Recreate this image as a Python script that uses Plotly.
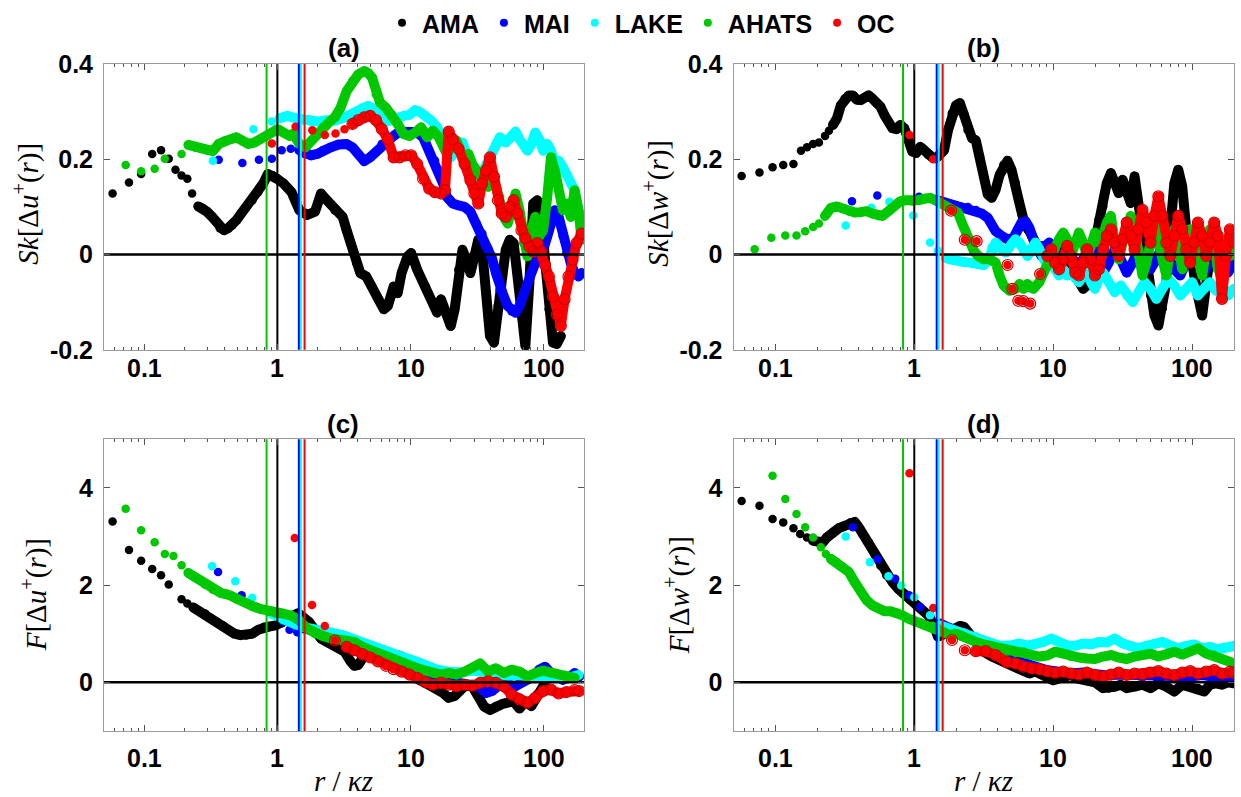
import math
import plotly.graph_objects as go

SITES = ["AMA", "MAI", "LAKE", "AHATS", "OC"]
COLORS = {"AMA": "#000000", "MAI": "#0000ff", "LAKE": "#00ffff",
          "AHATS": "#00c800", "OC": "#ff0000"}

# reference scale r/kz of each site (vertical markers)
VLINE_R = {"AHATS": 0.83, "AMA": 1.0, "MAI": 1.45, "LAKE": 1.5, "OC": 1.6}

# x tick labels of the r/kz axes
R_TICKS = [0.1, 1, 10, 100]
R_TICK_TEXT = ["0.1", "1", "10", "100"]

# ---------------- (a) Sk[du+] ----------------
a_ama_r = [0.058,0.077,0.095,0.115,0.134,0.153,0.172,0.191,0.211,0.229,0.255,0.277,0.296,0.324,0.347,0.371,0.397,0.425,0.461,0.493,0.535,0.585,0.648,0.717,0.783,0.849,0.922,0.994,1.114,1.276,1.462,1.675,1.918,2.125,2.353,2.697,3.09,3.31,3.66,3.92,4.19,4.64,5.14,5.69,6.30,6.74,7.46,8.0,8.55,9.47,10.1,11.2,12.9,14.2,15.8,16.9,18.1,20.0,21.4,22.9,24.5,26.2,28.1,30.1,32.2,34.4,36.8,39.4,42.2,45.2,48.3,51.7,55.4,59.3,63.4,67.9,72.6,77.8,83.2,89.1,95.3,102,109,117,125,134]
a_ama_sk = [0.128,0.151,0.169,0.211,0.219,0.201,0.178,0.166,0.159,0.128,0.101,0.097,0.090,0.079,0.069,0.055,0.051,0.055,0.062,0.072,0.086,0.100,0.114,0.131,0.149,0.169,0.166,0.159,0.149,0.131,0.093,0.083,0.090,0.128,0.114,0.093,0.079,0.051,0.010,-0.018,-0.039,-0.046,-0.067,-0.094,-0.115,-0.108,-0.067,-0.081,-0.039,-0.004,0.003,-0.032,-0.067,-0.094,-0.122,-0.094,-0.115,-0.150,-0.115,-0.032,0.010,-0.011,-0.039,-0.004,0.031,0.010,-0.081,-0.171,-0.185,-0.108,-0.046,0.010,0.031,0.024,-0.046,-0.129,-0.192,-0.060,0.107,0.114,0.079,-0.011,-0.115,-0.185,-0.188,-0.171]
a_mai_r = [0.363,0.546,0.727,0.909,1.077,1.26,1.462,1.62,1.79,1.99,2.20,2.52,2.88,3.31,3.66,4.05,4.49,4.97,5.50,6.09,6.74,7.46,8.27,9.15,10.1,11.2,12.4,13.8,15.2,16.3,17.5,18.7,20.7,22.9,25.4,28.1,31.1,34.4,38.1,40.8,43.7,46.7,50.0,53.5,57.3,61.3,65.6,70.2,75.2,80.5,86.1,92.2,98.7,106,113,121,129,139,148,159,170,182,192]
a_mai_sk = [0.199,0.192,0.199,0.201,0.219,0.222,0.219,0.211,0.208,0.211,0.219,0.225,0.231,0.232,0.225,0.211,0.196,0.204,0.215,0.232,0.239,0.249,0.258,0.258,0.258,0.256,0.246,0.218,0.197,0.176,0.149,0.121,0.107,0.103,0.100,0.090,0.065,0.044,0.013,-0.008,-0.039,-0.074,-0.088,-0.108,-0.119,-0.122,-0.108,-0.081,-0.060,-0.039,-0.018,-0.004,0.010,0.038,0.072,0.093,0.079,0.038,0.003,-0.018,-0.039,-0.046,-0.039]
a_lake_r = [0.328,0.493,0.661,0.909,1.04,1.19,1.37,1.57,1.79,2.05,2.353,2.697,3.09,3.54,3.92,4.34,4.80,5.32,5.89,6.52,7.22,8.0,8.85,9.80,10.8,11.6,12.9,14.2,15.8,17.5,18.7,20.0,22.1,24.5,26.2,28.1,30.1,33.3,36.8,40.8,43.7,46.7,51.7,57.3,61.3,65.6,70.2,75.2,80.5,86.1,92.2,98.7,106,113,121,129,139,148,159,170,182,192]
a_lake_sk = [0.197,0.246,0.263,0.279,0.286,0.291,0.286,0.282,0.279,0.279,0.282,0.281,0.286,0.294,0.301,0.308,0.312,0.305,0.291,0.279,0.282,0.288,0.291,0.293,0.303,0.300,0.291,0.282,0.267,0.239,0.218,0.204,0.222,0.235,0.211,0.176,0.156,0.163,0.190,0.211,0.232,0.246,0.235,0.246,0.258,0.242,0.232,0.218,0.232,0.256,0.242,0.218,0.232,0.218,0.190,0.197,0.183,0.169,0.149,0.135,0.093,0.065]
a_ahats_r = [0.0727,0.095,0.120,0.143,0.191,0.215,0.242,0.268,0.296,0.328,0.363,0.402,0.446,0.493,0.546,0.605,0.670,0.742,0.821,0.909,1.007,1.114,1.234,1.32,1.462,1.62,1.79,1.99,2.20,2.43,2.697,2.98,3.31,3.66,4.05,4.49,4.80,5.14,5.50,5.89,6.52,7.22,8.0,8.85,9.80,10.8,12.0,13.3,14.7,16.3,17.5,18.7,20.0,22.1,24.5,27.2,29.0,31.1,33.3,35.6,38.1,40.8,43.7,46.7,50.0,53.5,57.3,61.3,65.6,70.2,75.2,80.5,86.1,92.2,98.7,106,113,121,129,139,148,159,170,182,192]
a_ahats_sk = [0.188,0.175,0.180,0.201,0.211,0.230,0.225,0.222,0.219,0.217,0.232,0.239,0.242,0.246,0.239,0.232,0.235,0.242,0.249,0.256,0.263,0.256,0.249,0.254,0.232,0.225,0.239,0.253,0.267,0.277,0.288,0.308,0.343,0.364,0.378,0.385,0.381,0.371,0.336,0.319,0.308,0.294,0.274,0.253,0.249,0.256,0.267,0.246,0.260,0.246,0.232,0.211,0.225,0.239,0.204,0.211,0.190,0.176,0.163,0.149,0.142,0.176,0.142,0.121,0.079,0.065,0.093,0.128,0.093,0.024,-0.004,0.051,0.079,0.038,0.051,0.121,0.204,0.176,0.142,0.093,0.107,0.079,0.135,0.093,0.031]
a_oc_r = [0.909,1.37,1.83,2.27,2.73,3.19,3.66,4.05,4.49,4.97,5.50,6.09,6.74,7.46,8.27,9.15,10.1,11.2,12.4,13.8,15.2,16.9,18.1,19.3,20.7,22.9,25.4,28.1,30.1,32.2,34.4,36.8,39.4,42.2,45.2,48.3,51.7,55.4,59.3,63.4,67.9,72.6,77.8,83.2,89.1,95.3,102,109,117,125,134,143,153,164,176,192]
a_oc_sk = [0.233,0.268,0.261,0.251,0.254,0.263,0.274,0.282,0.288,0.291,0.282,0.263,0.242,0.204,0.204,0.208,0.208,0.190,0.159,0.138,0.131,0.128,0.135,0.258,0.242,0.222,0.190,0.156,0.128,0.107,0.149,0.176,0.204,0.163,0.114,0.086,0.079,0.100,0.114,0.086,0.051,0.034,0.017,0.006,0.024,0.006,-0.022,-0.046,-0.088,-0.126,-0.150,-0.094,-0.046,-0.011,0.024,0.044]

# ---------------- (b) Sk[dw+] ----------------
b_ama_r = [0.0572,0.0769,0.0955,0.114,0.135,0.153,0.169,0.187,0.206,0.228,0.243,0.260,0.277,0.296,0.316,0.338,0.361,0.385,0.411,0.440,0.469,0.501,0.535,0.572,0.611,0.652,0.697,0.744,0.794,0.849,0.906,0.968,1.033,1.104,1.179,1.259,1.345,1.436,1.534,1.638,1.749,1.868,1.995,2.13,2.28,2.43,2.60,2.77,2.96,3.16,3.38,3.61,3.85,4.11,4.39,4.69,5.01,5.35,5.71,6.10,6.52,6.96,7.44,7.94,8.48,9.06,9.68,10.3,11.0,11.8,12.6,13.4,14.4,15.3,16.4,17.5,18.7,19.95,21.3,22.8,24.3,26.0,27.7,29.6,31.6,33.8,36.1,38.5,41.1,43.9,46.9,50.1,53.5,57.1,61.0,65.2,69.6,74.4,79.4,84.8,90.6,96.8,103,110,118,126,134,144,153,164,175,187,199]
b_ama_sk = [0.165,0.172,0.183,0.188,0.190,0.218,0.225,0.232,0.235,
            0.249,0.260,0.272,0.285,0.313,0.327,0.334,0.334,0.325,0.324,
            0.329,0.334,0.327,0.318,0.310,0.292,0.278,0.265,0.263,0.272,
            0.265,0.244,0.216,0.213,0.226,0.219,0.209,0.204,0.202,0.213,
            0.219,0.261,0.296,0.313,0.318,0.296,0.261,0.244,0.240,0.206,
            0.164,0.126,0.119,0.136,0.167,0.188,0.197,0.178,0.150,0.108,
            0.074,0.053,0.039,0.025,0.015,0.018,-0.003,-0.010,-0.003,0.025,
            0.018,-0.010,-0.031,-0.044,-0.058,-0.072,-0.065,-0.031,0.025,0.074,
            0.101,0.150,0.171,0.150,0.129,0.157,0.136,0.108,0.164,0.108,
            0.053,-0.031,-0.086,-0.128,-0.149,-0.114,-0.058,0.053,0.150,0.178,
            0.143,0.053,-0.003,-0.044,-0.086,-0.128,-0.044,-0.003,0.025,-0.017,
            -0.058,-0.031,-0.010,-0.017]
b_mai_r = [0.356,0.542,1.082,1.436,1.638,1.868,2.13,2.43,2.77,3.06,3.38,3.61,3.85,4.25,4.69,5.18,5.53,5.91,6.31,6.74,7.19,7.69,8.21,8.77,9.36,10.0,10.7,11.4,12.6,13.9,15.3,16.9,18.7,20.6,22.8,25.1,27.7,30.6,33.8,37.3,41.1,45.4,50.1,55.3,61.0,67.4,74.4,82.1,90.6,100,110,122,134,148,164,181,199]
b_mai_sk = [0.112,0.124,0.121,0.115,0.110,0.104,0.101,0.099,0.093,0.086,0.077,0.063,0.049,0.039,0.032,0.035,0.053,0.067,0.070,0.056,0.032,0.011,-0.003,0.018,0.025,0.004,-0.017,-0.003,0.011,-0.010,-0.024,-0.003,0.018,-0.010,-0.038,-0.017,0.011,-0.010,-0.038,-0.017,0.011,-0.003,-0.031,-0.010,0.018,-0.003,-0.031,-0.044,-0.017,0.011,-0.010,-0.038,-0.017,0.004,-0.017,-0.038,-0.017]
b_lake_r = [0.321,0.491,0.661,0.980,1.30,1.48,1.69,1.93,2.20,2.51,2.87,3.16,3.38,3.61,3.85,4.11,4.54,5.01,5.35,5.71,6.10,6.52,6.96,7.44,7.94,8.48,9.06,9.68,10.3,11.0,11.8,12.6,13.4,14.4,15.3,16.4,17.5,18.7,19.95,21.3,22.8,25.1,27.7,30.6,33.8,37.3,41.1,45.4,50.1,55.3,61.0,67.4,74.4,82.1,90.6,100,110,122,134,148,164,181,199]
b_lake_sk = [0.061,0.098,0.111,0.082,0.025,0.008,-0.008,-0.013,-0.015,-0.017,-0.020,-0.022,-0.013,0.015,0.025,0.017,0.004,0.022,0.032,0.025,0.008,-0.003,0.011,0.025,0.011,-0.010,-0.024,-0.017,-0.031,-0.044,-0.031,-0.044,-0.038,-0.051,-0.058,-0.044,-0.038,-0.058,-0.072,-0.051,-0.038,-0.058,-0.079,-0.065,-0.086,-0.100,-0.079,-0.058,-0.072,-0.093,-0.072,-0.051,-0.065,-0.086,-0.072,-0.058,-0.086,-0.072,-0.058,-0.076,-0.065,-0.086,-0.072]
b_ahats_r = [0.071,0.0936,0.118,0.142,0.164,0.187,0.206,
             0.228,0.251,0.277,0.306,0.338,0.373,0.411,0.454,0.501,0.553,0.591,0.652,0.720,0.794,0.877,0.968,1.068,1.179,1.30,1.39,1.534,1.69,1.868,2.06,2.20,2.35,2.51,2.68,2.87,3.16,3.49,3.85,4.11,4.39,4.85,5.35,5.71,6.10,6.52,7.19,
             7.94,8.48,9.06,9.68,10.3,11.0,11.8,12.6,13.4,14.4,15.3,16.4,17.5,18.7,19.95,21.3,22.8,24.3,26.0,27.7,29.6,31.6,33.8,36.1,38.5,41.1,43.9,46.9,50.1,53.5,57.1,61.0,65.2,69.6,74.4,79.4,84.8,90.6,96.8,103,110,118,126,134,144,153,164,175,187,199]
b_ahats_sk = [0.011,0.035,0.040,0.040,0.049,0.058,0.065,
              0.081,0.098,0.101,0.096,0.091,0.088,0.089,0.091,0.086,0.081,0.081,0.091,0.101,0.112,0.114,0.112,0.114,0.117,0.119,0.115,0.108,0.101,0.094,0.088,0.067,0.046,0.025,0.008,-0.003,-0.010,-0.010,-0.017,-0.044,-0.065,-0.076,-0.072,-0.062,-0.072,-0.062,-0.072,
              -0.058,-0.038,-0.024,-0.003,0.011,0.032,0.046,0.032,-0.003,0.025,0.046,0.025,-0.003,0.018,0.046,0.025,0.039,0.067,0.081,0.025,-0.010,0.025,0.060,0.081,0.053,-0.003,-0.044,-0.017,0.032,0.067,0.025,-0.010,-0.044,0.011,0.053,0.025,-0.031,0.011,0.053,0.025,-0.017,-0.044,0.011,0.053,0.025,-0.031,-0.017,0.025,-0.003,0.011]
b_oc_r = [0.924,1.37,1.84,2.31,2.81,4.69,5.08,5.61,6.10,6.82,8.05,
          9.06,9.68,10.3,11.0,11.8,12.6,13.4,14.4,15.3,16.4,17.5,18.7,19.95,21.3,22.8,24.3,26.0,27.7,29.6,31.6,33.8,36.1,38.5,41.1,43.9,46.9,50.1,53.5,57.1,61.0,65.2,69.6,74.4,79.4,84.8,90.6,96.8,103,110,118,126,134,144,153,164,175,187,199]
b_oc_sk = [0.251,0.200,0.092,0.031,0.028,-0.022,-0.072,-0.097,-0.098,-0.103,-0.041,
           -0.003,0.011,-0.017,-0.031,-0.010,0.018,-0.003,-0.038,-0.044,-0.017,0.011,-0.010,-0.044,-0.031,0.011,0.039,0.053,0.025,-0.003,0.032,0.067,0.039,0.011,0.053,0.094,0.067,0.025,0.081,0.122,0.081,0.025,-0.003,0.039,0.081,0.053,0.011,-0.017,0.025,0.067,0.039,-0.003,0.025,0.067,0.039,-0.093,-0.003,0.053,0.025]

# ---------------- (c) F[du+] ----------------
c_ama_r = [0.058,0.077,0.095,0.115,0.134,0.153,0.191,0.211,0.234,0.259,0.287,0.317,0.351,0.389,0.431,0.477,0.528,0.585,0.648,0.717,0.794,0.879,0.973,1.077,1.19,1.32,1.43,1.57,1.73,1.918,2.125,2.353,2.61,2.88,3.19,3.54,3.79,4.05,4.34,4.80,5.32,5.89,6.52,7.22,8.0,8.55,9.47,10.5,11.6,12.9,14.2,15.8,17.5,19.3,21.4,23.7,26.2,29.0,32.2,35.6,39.4,43.7,48.3,53.5,59.3,65.6,72.6,80.5,89.1,98.7,106]
c_ama_f = [3.31,2.72,2.50,2.33,2.20,2.01,1.71,1.62,1.54,1.46,1.41,1.32,1.24,1.17,1.07,1.00,0.97,0.97,1.00,1.08,1.14,1.15,1.17,1.22,1.27,1.37,1.42,1.34,1.24,1.07,0.90,0.83,0.78,0.73,0.63,0.43,0.34,0.36,0.49,0.58,0.56,0.53,0.51,0.47,0.56,0.53,0.29,0.16,0.05,-0.01,-0.07,-0.11,-0.22,-0.32,-0.28,-0.16,-0.05,-0.08,-0.28,-0.50,-0.57,-0.49,-0.45,-0.42,-0.39,-0.54,-0.39,-0.49,-0.25,-0.08,-0.12]
c_mai_r = [0.359,0.539,0.703,1.10,1.234,1.41,1.62,1.85,2.125,2.43,2.79,3.19,3.66,4.19,4.80,5.50,6.30,7.22,8.27,9.47,10.8,12.4,14.2,16.3,18.7,21.4,24.5,28.1,32.2,36.8,40.8,45.2,50.0,55.4,61.3,67.9,75.2,83.2,92.2,102,113,125,139,153,170,184]
c_mai_f = [2.27,1.79,1.55,1.25,1.08,1.03,1.10,1.08,1.03,1.01,1.00,0.95,0.83,0.73,0.66,0.59,0.53,0.47,0.43,0.32,0.24,0.18,0.12,0.07,0.04,0.00,-0.03,-0.05,-0.08,-0.22,-0.18,-0.08,-0.01,-0.05,-0.08,-0.01,0.05,0.12,0.26,0.32,0.19,0.12,0.05,0.09,0.19,0.12]
c_lake_r = [0.324,0.483,0.648,0.909,1.114,1.37,1.675,2.05,2.52,3.09,3.79,4.64,5.69,6.98,8.55,10.5,12.9,15.8,19.3,23.7,29.0,35.6,43.7,53.5,65.6,80.5,98.7,121,148,182]
c_lake_f = [2.39,2.08,1.74,1.41,1.28,1.19,1.12,1.08,1.04,0.97,0.88,0.78,0.68,0.61,0.53,0.45,0.34,0.26,0.22,0.20,0.24,0.20,0.16,0.14,0.15,0.11,0.09,0.12,0.08,0.15]
c_ahats_r = [0.0727,0.095,0.120,0.143,0.166,0.191,0.215,0.242,0.268,0.287,0.328,0.376,0.431,0.493,0.565,0.648,0.742,0.849,0.973,1.114,1.276,1.462,1.675,1.918,2.20,2.52,2.88,3.31,3.79,4.34,4.97,5.69,6.52,7.46,8.55,9.80,11.2,12.9,14.7,16.9,19.3,22.1,25.4,29.0,33.3,38.1,43.7,50.0,57.3,65.6,75.2,86.1,98.7,113,129,148,170]
c_ahats_f = [3.57,3.13,2.88,2.64,2.60,2.41,2.25,2.15,2.09,2.01,1.91,1.84,1.80,1.71,1.64,1.57,1.51,1.46,1.42,1.41,1.37,1.27,1.10,1.00,0.95,0.90,0.88,0.85,0.83,0.73,0.66,0.59,0.53,0.47,0.41,0.36,0.29,0.24,0.19,0.16,0.19,0.16,0.22,0.29,0.39,0.22,0.29,0.19,0.26,0.22,0.12,0.19,0.24,0.20,0.16,0.12,0.09]
c_oc_r = [1.35,1.82,2.27,2.70,3.31,3.79,4.34,4.97,5.69,6.52,7.46,8.55,9.80,11.2,12.9,14.7,16.9,19.3,22.1,25.4,29.0,33.3,38.1,43.7,50.0,57.3,65.6,75.2,86.1,98.7,113,129,148,170,184]
c_oc_f = [2.97,1.59,1.16,0.86,0.73,0.66,0.58,0.51,0.43,0.34,0.27,0.22,0.16,0.09,0.00,-0.05,-0.01,-0.05,-0.08,-0.05,-0.07,-0.01,0.02,-0.01,-0.08,-0.25,-0.35,-0.42,-0.32,-0.18,-0.15,-0.23,-0.20,-0.16,-0.18]

# ---------------- (d) F[dw+] ----------------
d_ama_r = [0.0572,0.0769,0.0955,0.114,0.135,0.151,0.169,0.187,0.206,0.220,0.235,0.260,0.286,0.316,0.349,0.373,0.398,0.425,0.469,0.518,0.572,0.631,0.697,0.769,0.849,0.936,1.033,1.14,1.259,1.39,1.48,1.585,1.749,1.93,2.13,2.28,2.43,2.60,2.87,3.16,3.61,4.11,4.69,5.35,6.10,6.74,7.44,8.21,9.06,10.0,11.0,12.2,13.4,15.3,17.5,19.95,22.8,25.1,27.7,30.6,33.8,38.5,43.9,50.1,57.1,65.2,74.4,84.8,96.8,110,122,134,148,164,181,199]
d_ama_f = [3.73,3.63,3.36,3.29,3.17,3.05,2.98,2.91,2.88,2.88,2.98,3.09,3.17,3.22,3.29,3.30,3.19,3.05,2.88,2.64,2.40,2.20,2.06,1.92,1.82,1.69,1.58,1.48,1.38,1.17,0.94,0.97,1.04,1.07,1.16,1.14,1.04,0.94,0.76,0.63,0.53,0.46,0.39,0.32,0.23,0.18,0.22,0.16,0.08,0.04,0.08,0.14,0.15,0.07,0.03,0.00,-0.12,-0.12,-0.09,-0.05,-0.12,-0.09,-0.05,-0.12,-0.02,-0.09,-0.19,-0.05,-0.09,-0.12,-0.19,-0.05,-0.02,-0.05,0.00,-0.02]
d_mai_r = [0.361,0.546,0.729,0.918,1.104,1.30,1.534,1.868,2.28,2.77,3.38,4.11,5.01,6.10,7.44,9.06,11.0,13.4,16.4,19.95,24.3,29.6,36.1,43.9,53.5,65.2,79.4,96.8,118,144,175,199]
d_mai_f = [3.19,2.53,2.13,1.79,1.55,1.38,1.21,1.11,1.02,0.87,0.70,0.56,0.48,0.39,0.32,0.25,0.22,0.18,0.20,0.16,0.14,0.16,0.15,0.12,0.15,0.14,0.10,0.12,0.15,0.11,0.08,0.10]
d_lake_r = [0.321,0.479,0.652,0.805,1.0,1.30,1.534,1.868,2.28,2.77,3.38,4.11,5.01,5.71,6.52,7.44,8.48,9.68,11.0,12.6,14.4,16.4,18.7,21.3,24.3,27.7,31.6,36.1,41.1,46.9,53.5,61.0,69.6,79.4,90.6,103,118,134,153,175,199]
d_lake_f = [3.00,2.47,2.18,1.99,1.75,1.38,1.17,1.09,1.02,0.94,0.82,0.75,0.76,0.80,0.75,0.78,0.83,0.90,0.82,0.76,0.75,0.80,0.78,0.83,0.82,0.90,0.80,0.73,0.70,0.75,0.80,0.83,0.76,0.70,0.75,0.78,0.70,0.73,0.68,0.71,0.75]
d_ahats_r = [0.0955,0.118,0.142,0.164,0.187,0.213,0.231,0.251,0.277,0.306,0.338,0.373,0.411,0.454,0.501,0.553,0.611,0.674,0.744,0.821,0.906,1.0,1.104,1.22,1.345,1.48,1.638,1.81,1.995,2.20,2.43,2.77,3.16,3.61,4.11,4.69,5.35,6.10,6.96,7.94,9.06,10.3,11.8,13.4,15.3,17.5,19.95,22.8,26.0,29.6,33.8,38.5,43.9,50.1,57.1,65.2,74.4,84.8,96.8,110,126,144,164,187,199]
d_ahats_f = [4.25,3.77,3.46,3.19,2.98,2.78,2.64,2.54,2.47,2.37,2.27,2.06,1.86,1.69,1.58,1.52,1.46,1.46,1.43,1.38,1.31,1.26,1.23,1.17,1.16,1.11,1.04,0.97,1.00,0.94,0.90,0.83,0.78,0.75,0.70,0.64,0.61,0.63,0.56,0.53,0.55,0.63,0.59,0.53,0.51,0.49,0.48,0.53,0.56,0.51,0.48,0.53,0.56,0.59,0.53,0.56,0.63,0.57,0.63,0.70,0.59,0.56,0.48,0.42,0.39]
d_oc_r = [0.924,1.37,1.868,2.31,2.77,3.27,3.85,4.63,5.35,6.10,6.96,7.94,9.06,10.3,11.8,13.4,15.3,17.5,19.95,22.8,26.0,29.6,33.8,38.5,43.9,50.1,57.1,65.2,74.4,84.8,96.8,110,126,144,164,187,199]
d_oc_f = [4.30,1.53,0.87,0.66,0.64,0.64,0.56,0.42,0.39,0.32,0.29,0.27,0.23,0.20,0.22,0.18,0.16,0.20,0.15,0.12,0.16,0.20,0.15,0.18,0.16,0.20,0.23,0.18,0.15,0.20,0.23,0.18,0.22,0.25,0.18,0.22,0.20]

PANELS = {
    "a": {"AMA": (a_ama_r, a_ama_sk), "MAI": (a_mai_r, a_mai_sk), "LAKE": (a_lake_r, a_lake_sk),
          "AHATS": (a_ahats_r, a_ahats_sk), "OC": (a_oc_r, a_oc_sk)},
    "b": {"AMA": (b_ama_r, b_ama_sk), "MAI": (b_mai_r, b_mai_sk), "LAKE": (b_lake_r, b_lake_sk),
          "AHATS": (b_ahats_r, b_ahats_sk), "OC": (b_oc_r, b_oc_sk)},
    "c": {"AMA": (c_ama_r, c_ama_f), "MAI": (c_mai_r, c_mai_f), "LAKE": (c_lake_r, c_lake_f),
          "AHATS": (c_ahats_r, c_ahats_f), "OC": (c_oc_r, c_oc_f)},
    "d": {"AMA": (d_ama_r, d_ama_f), "MAI": (d_mai_r, d_mai_f), "LAKE": (d_lake_r, d_lake_f),
          "AHATS": (d_ahats_r, d_ahats_f), "OC": (d_oc_r, d_oc_f)},
}

# r/kz above which successive samples are packed tightly enough to form a band
DENSE_FROM = {
    "a": {"AMA": 0.24, "MAI": 1.4, "LAKE": 0.95, "AHATS": 0.2, "OC": 3.5},
    "b": {"AMA": 0.25, "MAI": 1.4, "LAKE": 1.6, "AHATS": 0.22, "OC": 8.5},
    "c": {"AMA": 0.22, "MAI": 1.6, "LAKE": 0.85, "AHATS": 0.2, "OC": 3.0},
    "d": {"AMA": 0.18, "MAI": 1.4, "LAKE": 1.5, "AHATS": 0.24, "OC": 2.5},
}
# OC is also drawn with open rings on top beyond this r/kz
RING_FROM = {"a": 3.5, "b": 1.8, "c": 2.5, "d": 1.8}

AXES = {"a": ("x", "y"), "b": ("x2", "y2"), "c": ("x3", "y3"), "d": ("x4", "y4")}
YRANGE = {"a": (-0.2, 0.4), "b": (-0.2, 0.4), "c": (-1, 5), "d": (-1, 5)}
R_MIN, R_MAX = 0.05, 200

MS_SPARSE = 8.5   # isolated dot diameter
MS_DENSE = 9      # dot diameter inside bands
LW_DENSE = 10     # band thickness

fig = go.Figure()

for p, series in PANELS.items():
    xa, ya = AXES[p]
    for site in SITES:
        r, v = series[site]
        cut = DENSE_FROM[p][site]
        sr = [a for a in r if a < cut]
        sv = [b for a, b in zip(r, v) if a < cut]
        dr = [a for a in r if a >= cut]
        dv = [b for a, b in zip(r, v) if a >= cut]
        col = COLORS[site]
        if sr:
            fig.add_trace(go.Scatter(x=sr, y=sv, xaxis=xa, yaxis=ya, mode="markers",
                                     marker=dict(color=col, size=MS_SPARSE), showlegend=False,
                                     hoverinfo="skip"))
        if dr:
            fig.add_trace(go.Scatter(x=dr, y=dv, xaxis=xa, yaxis=ya, mode="lines+markers",
                                     line=dict(color=col, width=LW_DENSE),
                                     marker=dict(color=col, size=MS_DENSE), showlegend=False,
                                     hoverinfo="skip"))
    # OC rings
    r, v = series["OC"]
    rr = [a for a in r if a >= RING_FROM[p]]
    rv = [b for a, b in zip(r, v) if a >= RING_FROM[p]]
    fig.add_trace(go.Scatter(x=rr, y=rv, xaxis=xa, yaxis=ya, mode="markers",
                             marker=dict(symbol="circle-open", color="#d00000", size=11,
                                         line=dict(width=1.2)),
                             showlegend=False, hoverinfo="skip"))
    # zero line
    fig.add_trace(go.Scatter(x=[R_MIN, R_MAX], y=[0, 0], xaxis=xa, yaxis=ya, mode="lines",
                             line=dict(color="black", width=2.5), showlegend=False,
                             hoverinfo="skip"))
    # site reference lines
    lo, hi = YRANGE[p]
    for site in ["AHATS", "AMA", "MAI", "LAKE", "OC"]:
        fig.add_trace(go.Scatter(x=[VLINE_R[site]] * 2, y=[lo, hi], xaxis=xa, yaxis=ya,
                                 mode="lines", line=dict(color=COLORS[site], width=2),
                                 showlegend=False, hoverinfo="skip"))

# legend entries
for site in SITES:
    fig.add_trace(go.Scatter(x=[None], y=[None], mode="markers", name=site,
                             marker=dict(color=COLORS[site], size=8), showlegend=True))

W, H = 1241, 797
BOLD = dict(family="Liberation Sans, Arial, sans-serif", size=25, color="black", weight="bold")
SERIF = dict(family="Liberation Serif, Times New Roman, serif", size=29, color="black")
FRAME = "#9a9a9a"
TICK = "#555555"

minor_r = [0.06, 0.07, 0.08, 0.09, 0.2, 0.3, 0.4, 0.5, 0.6, 0.7, 0.8, 0.9,
           2, 3, 4, 5, 6, 7, 8, 9, 20, 30, 40, 50, 60, 70, 80, 90]


def xaxis(domain, anchor):
    return dict(type="log", domain=domain, anchor=anchor,
                range=[math.log10(R_MIN), math.log10(R_MAX)],
                tickmode="array", tickvals=R_TICKS, showticklabels=False,
                ticks="inside", ticklen=6, tickwidth=1, tickcolor=TICK,
                minor=dict(tickmode="array", tickvals=minor_r, ticks="inside", ticklen=3,
                           tickwidth=1, tickcolor=TICK, showgrid=False),
                showline=True, linecolor=FRAME, linewidth=1, mirror="ticks",
                showgrid=False, zeroline=False)


def yaxis(domain, anchor, rng, vals, texts):
    return dict(domain=domain, anchor=anchor, range=list(rng),
                tickmode="array", tickvals=vals, ticktext=texts,
                ticks="inside", ticklen=6, tickwidth=1, tickcolor=TICK,
                showline=True, linecolor=FRAME, linewidth=1, mirror="ticks",
                showgrid=False, zeroline=False, tickfont=BOLD, ticklabelstandoff=5)


XL = [104 / W, 584 / W]
XR = [733.5 / W, 1234 / W]
YT = [1 - 347 / H, 1 - 59.3 / H]
YB = [1 - 730.5 / H, 1 - 437 / H]

sk_vals, sk_txt = [-0.2, 0, 0.2, 0.4], ["-0.2", "0", "0.2", "0.4"]
f_vals, f_txt = [0, 2, 4], ["0", "2", "4"]


def px(x, y):
    return x / W, 1 - y / H


annotations = []
for label, (cx, cy) in {"(a)": (344, 43), "(b)": (984, 43), "(c)": (343, 422), "(d)": (984, 422)}.items():
    x, y = px(cx, cy)
    annotations.append(dict(text=label, x=x, y=y, xref="paper", yref="paper", showarrow=False,
                            xanchor="center", yanchor="middle",
                            font=dict(family=BOLD["family"], size=26, color="black", weight="bold")))

# r/kz tick labels placed under each panel on its own log axis
for xa, label_y in (("x", 365), ("x2", 365), ("x3", 758), ("x4", 758)):
    for v, t in zip(R_TICKS, R_TICK_TEXT):
        annotations.append(dict(text=t, x=math.log10(v), y=px(0, label_y)[1], xref=xa,
                                yref="paper", showarrow=False, xanchor="center",
                                yanchor="middle", font=BOLD))

ylabels = [
    ("<i>Sk</i>[Δ<i>u</i><sup>+</sup>(<i>r</i>)]", 27, 200),
    ("<i>Sk</i>[Δ<i>w</i><sup>+</sup>(<i>r</i>)]", 657, 200),
    ("<i>F</i>[Δ<i>u</i><sup>+</sup>(<i>r</i>)]", 34, 594),
    ("<i>F</i>[Δ<i>w</i><sup>+</sup>(<i>r</i>)]", 677, 594),
]
for text, cx, cy in ylabels:
    x, y = px(cx, cy)
    annotations.append(dict(text=text, x=x, y=y, xref="paper", yref="paper", showarrow=False,
                            textangle=-90, xanchor="center", yanchor="middle", font=SERIF))

for cx in (343, 984):
    x, y = px(cx, 781)
    annotations.append(dict(text="<i>r</i> / <i>κz</i>", x=x, y=y, xref="paper", yref="paper",
                            showarrow=False, xanchor="center", yanchor="middle", font=SERIF))

lx, ly = px(641, 18)
fig.update_layout(
    width=W, height=H, margin=dict(l=0, r=0, t=0, b=0),
    template="none", paper_bgcolor="white", plot_bgcolor="white",
    xaxis=xaxis(XL, "y"), yaxis=yaxis(YT, "x", YRANGE["a"], sk_vals, sk_txt),
    xaxis2=xaxis(XR, "y2"), yaxis2=yaxis(YT, "x2", YRANGE["b"], sk_vals, sk_txt),
    xaxis3=xaxis(XL, "y3"), yaxis3=yaxis(YB, "x3", YRANGE["c"], f_vals, f_txt),
    xaxis4=xaxis(XR, "y4"), yaxis4=yaxis(YB, "x4", YRANGE["d"], f_vals, f_txt),
    showlegend=True,
    legend=dict(orientation="h", x=lx, y=ly, xanchor="center", yanchor="middle",
                font=BOLD, bgcolor="rgba(0,0,0,0)", itemclick=False),
    annotations=annotations,
)

fig.write_html("out.html", post_script=(
    "document.querySelectorAll('path.js-line').forEach(function(p){"
    "p.style.strokeLinejoin='round';p.style.strokeLinecap='round';});"))
